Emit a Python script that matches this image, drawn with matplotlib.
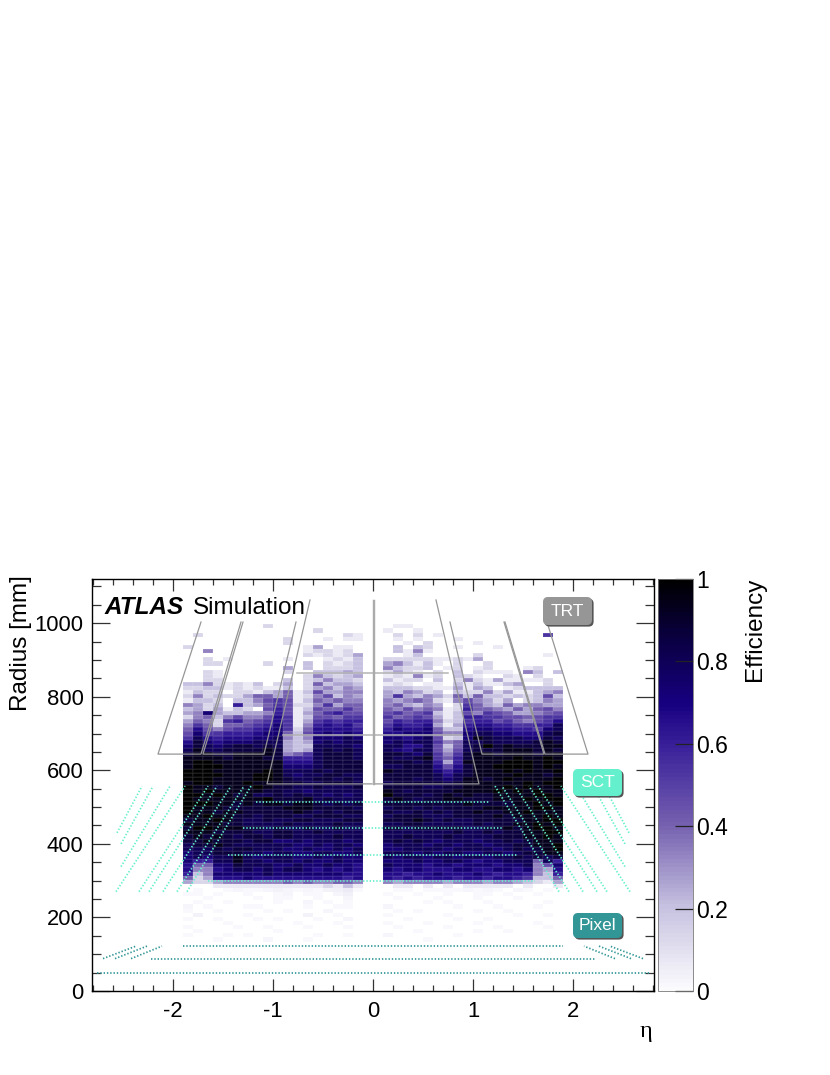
import numpy as np
import matplotlib
matplotlib.use('Agg')
from matplotlib import pyplot as plt
from matplotlib.colors import LinearSegmentedColormap
from matplotlib.patches import FancyBboxPatch
from matplotlib.transforms import IdentityTransform

plt.rcParams['font.family'] = ['Liberation Sans', 'DejaVu Sans']
plt.rcParams['axes.unicode_minus'] = False

# efficiency per cell, hex digit = value*15
# first row is the radius bin 89 (bin width 11.2 mm), last row is bin 25
eff_left = [
    '000000000000000000', '000000002000000000', '000000000000020000', '020000000000000021',
    '000000000020001011', '000000000020000000', '200000000000140110', '005000000000122120',
    '000000000000212124', '002010000010001213', '002200002000302123', '000000000040302223',
    '002100000020033343', '002100000000253234', '002200000030235332', '335212130240263443',
    '223312121130245354', '132202213461374455', '252322466461257354', '133203357871365655',
    '542309346872258466', '342413207971376686', '45b433445971468977', '256357557a81377688',
    '465289678a81489899', '586266789b8159a9a8', '6a757889ab826aaaa9', '7b88999abb637ababa',
    '8ca9aaabbc535bbbcb', 'adbabbbccc434bcbcc', 'bdcbcddcdc433ccccb', 'ceccdddded434cdcdc',
    'deeddeeeed568cdddc', 'eeeedeeedd999cdddc', 'effeeeeeeeaaacdddd', 'efffeeeeeebbbcdddd',
    'fffeeeeefecccdcddd', 'ffffeeeffecbccddcc', 'fffeeeeffedccddcdc', 'effeeefeeeddccdddc',
    'feedeeefeddccdcccd', 'fefeeeeeddccbccccc', 'ffefedeccdcdccbcbc', 'feeeeeeefdddecdccc',
    'fffeededeedeedcdcd', 'feeeddddddeeeddddc', 'feedeedddddedcdcdd', 'eefeeddcdddccdddcc',
    'deefedccdccddcccdd', 'eeeeddccccdccccdcc', 'dffeeeddcdccdccdcc', 'eeeddddccddccdcccc',
    'dededcddcddccccdcc', 'ddedddcddbbcbcccbc', 'cddedccccccbbcbccb', 'cccdcddcccbbcbbcbc',
    'bccdddccbccbbccbbc', 'bcbccecbcccbbcbcbb', 'b99cceccbccbcbbcbb', 'a66bbdcccbbcbbcbba',
    'a55abccbcbccbababa', '935bbbbbcbbbbbbbaa', '624aaabaaaaaaaaa9a', '422455555565655665',
    '000111111111112131',
]
eff_right = [
    '000000000000000000', '011000000000000000', '100100000000000000', '020201000000000080',
    '010100010000000000', '001020000100000000', '030320010001000000', '031510000000000000',
    '001300000200000010', '222221121400000000', '453131020020000000', '532230120120001200',
    '242102030211105303', '121512032100210200', '312203025214111120', '121011031311340020',
    '333221141430123333', '435423032252411345', '484354263633232373', '545652157542402354',
    '564354028643645544', '657565129665464675', '786783137587644567', '867874139988776788',
    '79899523899786578a', '8a99a4149aa998899c', '9baab633abbaa998bc', 'aabbb755bccbbaaacd',
    'bbabc723bedcccbbdc', 'bcbcc856ccdccccded', 'ccaac736cdfdedddee', 'cbacc747cdddeeeded',
    'ddcbd858deedeeedee', 'dccde869deeeefeefe', 'dddcd949eeeefffeff', 'ccddda7adeeffffefe',
    'eddddb9bdeeefefeef', 'dddddcacdeeeefeede', 'dddcdcbceedefeeeef', 'cdddddcdeeeeeefeff',
    'ddddccddeeeefefeef', 'edcddddeeeefefefee', 'fdddcdededdeeeeffe', 'dedcddeedddeeefeff',
    'ddddddddeddddeefef', 'cddcdcddddeeeeeffe', 'dccdcdcddeddeefeee', 'cdddcccddddedeeefe',
    'dddedcdccdddddeeff', 'ccddcccccdcddeefef', 'ddcdddddccddedeffe', 'cccccccdccdcddeeff',
    'ccdcccdccccdddeefe', 'cdcdcbcccbccdcdeee', 'bcccbccbccbccddeef', 'bbccccbccccbcdcdef',
    'cccbcbccbbccbcddee', 'cbccbccbccbccdcdcd', 'bbbcbbccbabbccc6c9', 'cbbbabbabbbabbc57b',
    'babbaaabbaabbab54a', 'aa9aabaaaba9aa9539', 'a9a9aaa9aa9aa98336', '545555455545543214',
    '011010101111101001',
]
# pale cells below the sct, radius bins 24 to 11, digit = value*100
pale_left = [
    '010012112321213461', '110100100120110240', '001000010110010020', '010010000100201010',
    '201000110000100110', '100100001010002000', '030000100000300100', '100100010100010020',
    '000010000001000100', '100001001000100010', '010000000100000000', '100010100000010010',
    '000100002000100000', '000000000000000000',
]
pale_right = [
    '011011112121021010', '100100100110100100', '010001000100010000', '000010100010000010',
    '200000010001000100', '010100000100100000', '100000100000010010', '001000010010000000',
    '100010000100000100', '010000100001000010', '000100000100100000', '200000010000000000',
    '000010000000000000', '000000000000000000',
]

# trt outlines as (eta, radius) corners
trt_end_eta = [[-1.72, -2.15, -1.72, -1.32], [-1.30, -1.70, -1.09, -0.77],
               [1.74, 2.15, 1.72, 1.32], [1.31, 1.71, 1.09, 0.77]]
trt_end_r = [1003, 644, 644, 1003]
trt_barrel_eta = [[-0.63, -1.06, -0.01], [0.63, 1.06, 0.02]]
trt_barrel_r = [1063, 563, 563]
trt_hline_eta = [[-0.90, 0.89], [-0.76, 0.75]]
trt_hline_r = [696, 864]
trt_centre_eta = [-0.005, 0.01]
trt_centre_r = [563, 1063]

# sct and pixel layers
sct_r = [299, 371, 443, 514]
sct_left = [-1.65, -1.45, -1.30, -1.17]
sct_right = [1.62, 1.45, 1.29, 1.16]
sct_disk_low = [1.86, 1.96, 2.10, 2.24, 2.34, 2.57]
sct_disk_high = [1.22, 1.29, 1.42, 1.56, 1.65, 1.88]
sct_disk_r = [270, 557]
sct_outer_low = [2.52, 2.52, 2.56]
sct_outer_high = [2.03, 2.20, 2.31]
sct_outer_r_low = [338, 400, 430]

pix_r = [50, 88, 122]
pix_eta = [2.76, 2.22, 1.90]
pix_disk_low = [2.42, 2.58, 2.70]
pix_disk_high = [2.11, 2.26, 2.37]
pix_disk_r = [88, 122]

cbar_ticks = [0, 0.2, 0.4, 0.6, 0.8, 1]
cbar_labels = ['0', '0.2', '0.4', '0.6', '0.8', '1']

W, H = 830, 1075
FS = 17.5
FS_TICK = 15.8
TRT_C = '#969696'
SCT_C = '#64f0cc'
PIX_C = '#329696'

cmap = LinearSegmentedColormap.from_list('eff', [
    (0.0, (0.985, 0.985, 0.995)),
    (0.2, (0.78, 0.76, 0.88)),
    (0.4, (0.46, 0.38, 0.69)),
    (0.6, (0.22, 0.12, 0.60)),
    (0.7, (0.09, 0.0, 0.50)),
    (0.85, (0.04, 0.0, 0.27)),
    (1.0, (0.0, 0.0, 0.0)),
], N=100)
cmap.set_bad((1, 1, 1, 0))


def build(rows, pale):
    a = np.array([[int(c, 16) / 15 for c in r] for r in rows])
    b = np.array([[int(c) / 100 for c in r] for r in pale])
    z = np.flipud(np.vstack([a, b]))
    return np.ma.masked_equal(z, 0)


def label_box(x0, x1, y0, y1, color, text):
    # pixel coords, y from the top of the picture
    for dx, c in [(1.6, '#555555'), (0, color)]:
        p = FancyBboxPatch((x0 + dx + 4, H - y1 - dx + 4), x1 - x0 - 8, y1 - y0 - 8,
                           boxstyle='round,pad=4,rounding_size=5', fc=c, ec='none',
                           transform=IdentityTransform(), zorder=6)
        fig.add_artist(p)
    fig.text((x0 + x1) / 2 / W, 1 - (y0 + y1) / 2 / H, text, color='white', fontsize=12.5,
             ha='center', va='center', zorder=7)


fig = plt.figure(figsize=(W / 100, H / 100), dpi=100)
ax = fig.add_axes([92 / W, 1 - 991 / H, 562 / W, 412 / H])

r_edges = 11.2 * np.arange(11, 91)
eta_left = -1.9 + 0.1 * np.arange(19)
eta_right = 0.1 + 0.1 * np.arange(19)
kw = dict(cmap=cmap, vmin=0, vmax=1, edgecolors=(1, 1, 1, 0.06), linewidth=0.3)
mesh = ax.pcolormesh(eta_left, r_edges, build(eff_left, pale_left), **kw)
ax.pcolormesh(eta_right, r_edges, build(eff_right, pale_right), **kw)

# trt
for e in trt_end_eta:
    ax.plot(e, trt_end_r, color=TRT_C, lw=0.9, zorder=3)
for e in trt_barrel_eta:
    ax.plot(e, trt_barrel_r, color=TRT_C, lw=0.9, zorder=3)
for e, r in zip(trt_hline_eta, trt_hline_r):
    ax.plot(e, [r, r], color='#b4b4b4', lw=1.1, zorder=3)
for e in trt_centre_eta:
    ax.plot([e, e], trt_centre_r, color='#aaaaaa', lw=1.0, zorder=3)

# dotted layers
dots = dict(lw=1.25, ls=(0, (0.8, 1.1)), zorder=4)
for r, a, b in zip(sct_r, sct_left, sct_right):
    ax.plot([a, b], [r, r], color=SCT_C, **dots)
for sign in [-1, 1]:
    for a, b in zip(sct_disk_low, sct_disk_high):
        ax.plot([sign * a, sign * b], sct_disk_r, color=SCT_C, **dots)
    for a, b, r in zip(sct_outer_low, sct_outer_high, sct_outer_r_low):
        ax.plot([sign * a, sign * b], [r, sct_disk_r[1]], color=SCT_C, **dots)
    for a, b in zip(pix_disk_low, pix_disk_high):
        ax.plot([sign * a, sign * b], pix_disk_r, color=PIX_C, **dots)
for r, e in zip(pix_r, pix_eta):
    ax.plot([-e, e], [r, r], color=PIX_C, **dots)

ax.set_xlim(-2.81, 2.81)
ax.set_ylim(0, 1120)
ax.set_xticks([-2, -1, 0, 1, 2])
ax.set_xticks(np.arange(-2.8, 2.81, 0.2), minor=True)
ax.set_yticks(np.arange(0, 1001, 200))
ax.set_yticks(np.arange(0, 1101, 50), minor=True)
ax.tick_params(axis='x', which='major', direction='in', top=True, length=8.5, width=0.9, labelsize=FS_TICK, pad=7, color='#333333')
ax.tick_params(axis='x', which='minor', direction='in', top=True, length=4.3, width=0.9, color='#333333')
ax.tick_params(axis='y', which='major', direction='in', right=True, length=13, width=0.9, labelsize=FS_TICK, pad=6, color='#333333')
ax.tick_params(axis='y', which='minor', direction='in', right=True, length=6.5, width=0.9, color='#333333')
for s in ax.spines.values():
    s.set_linewidth(1.0)

fig.text(21 / W, 1 - 575 / H, 'Radius [mm]', rotation=90, fontsize=FS, ha='center', va='top')
fig.text(646 / W, 1 - 1031 / H, '\u03b7', fontsize=FS, family='Liberation Serif', ha='center', va='center')
fig.text(105 / W, 1 - 608 / H, 'ATLAS', fontsize=FS, fontweight='bold', fontstyle='italic', ha='left', va='center')
fig.text(193 / W, 1 - 608 / H, 'Simulation', fontsize=FS, ha='left', va='center')

label_box(543, 592, 597, 625, TRT_C, 'TRT')
label_box(573, 622, 769, 796, SCT_C, 'SCT')
label_box(573, 622, 913, 938, PIX_C, 'Pixel')

# palette
cax = fig.add_axes([658 / W, 1 - 991 / H, 35 / W, 412 / H])
cb = fig.colorbar(mesh, cax=cax)
cb.set_ticks(cbar_ticks)
cb.set_ticklabels(cbar_labels)
cb.ax.tick_params(which='major', direction='in', length=13, width=0.9, labelsize=16.5, pad=2, color='#222222')
cb.minorticks_off()
cb.outline.set_linewidth(0.6)
cb.outline.set_edgecolor('#777777')
fig.text(755 / W, 1 - 578 / H, 'Efficiency', rotation=90, fontsize=FS, ha='center', va='top')

fig.savefig('out.png', dpi=100)
